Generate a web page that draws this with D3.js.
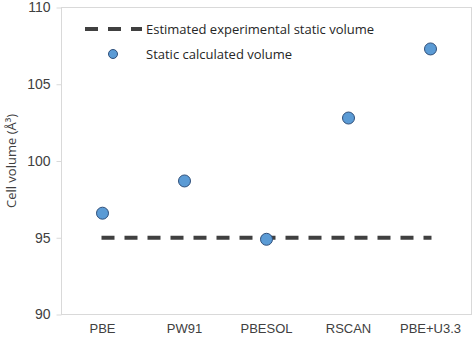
<!DOCTYPE html>
<html>
<head>
<meta charset="utf-8">
<style>
  body { margin: 0; background: #fff; }
  svg { display: block; font-family: "Open Sans", "Noto Sans", sans-serif; }
  .frame { fill: none; stroke: #d9d9d9; stroke-width: 1; }
  .axis text { fill: #404040; }
  .axis path, .axis line { stroke: #d9d9d9; }
</style>
</head>
<body>
<svg width="474" height="342"></svg>
<script src="https://d3js.org/d3.v7.min.js"></script>
<script>
var methods = ["PBE", "PW91", "PBESOL", "RSCAN", "PBE+U3.3"];
var calculated = [96.6, 98.7, 94.9, 102.8, 107.3];
var experimental = 95;
var yTicks = [90, 95, 100, 105, 110];

var svg = d3.select("svg"),
    margin = {top: 7.5, right: 2.5, bottom: 27.5, left: 61.5},
    width = +svg.attr("width") - margin.left - margin.right,
    height = +svg.attr("height") - margin.top - margin.bottom,
    g = svg.append("g").attr("transform", "translate(" + margin.left + "," + margin.top + ")");

var x = d3.scaleBand().domain(methods).range([0, width]).padding(0);
var y = d3.scaleLinear().domain([90, 110]).range([height, 0]);

g.append("rect").attr("class", "frame")
  .attr("width", width).attr("height", height);

// y axis
var yAxis = g.append("g").attr("class", "axis")
  .call(d3.axisLeft(y).tickValues(yTicks).tickSize(5).tickPadding(6));
yAxis.select(".domain").remove();
yAxis.selectAll("text").attr("font-size", 14);

// x axis labels
var xAxis = g.append("g").attr("class", "axis")
  .attr("transform", "translate(0," + height + ")")
  .call(d3.axisBottom(x).tickSize(0).tickPadding(9));
xAxis.select(".domain").remove();
xAxis.selectAll("text").attr("font-size", 13);

svg.append("text")
  .attr("transform", "translate(11," + (margin.top + height / 2) + ") rotate(-90)")
  .attr("text-anchor", "middle")
  .attr("dy", "0.35em")
  .attr("font-size", 13)
  .attr("fill", "#404040")
  .text("Cell volume (Å³)");

// experimental dashed line
var line = d3.line().x(function(d) { return d[0]; }).y(function(d) { return d[1]; });
g.append("path")
  .attr("d", line([[x(methods[0]) + x.bandwidth() / 2 - 1, y(experimental)],
                   [x(methods[methods.length - 1]) + x.bandwidth() / 2 + 1, y(experimental)]]))
  .attr("fill", "none")
  .attr("stroke", "#404040")
  .attr("stroke-width", 4)
  .attr("stroke-dasharray", "13,10");

// calculated points
g.selectAll("circle.pt")
  .data(methods)
  .enter().append("circle")
  .attr("class", "pt")
  .attr("cx", function(d) { return x(d) + x.bandwidth() / 2; })
  .attr("cy", function(d, i) { return y(calculated[i]); })
  .attr("r", 6)
  .attr("fill", "#5b9bd5")
  .attr("stroke", "#2f4f7a")
  .attr("stroke-width", 1);

// legend
var legend = svg.append("g").attr("font-size", 13).attr("fill", "#262626");
legend.append("line")
  .attr("x1", 85).attr("x2", 142).attr("y1", 29).attr("y2", 29)
  .attr("stroke", "#404040").attr("stroke-width", 4)
  .attr("stroke-dasharray", "13,10");
legend.append("text").attr("x", 146).attr("y", 29).attr("dy", "0.35em")
  .text("Estimated experimental static volume");
legend.append("circle")
  .attr("cx", 113).attr("cy", 54).attr("r", 4.5)
  .attr("fill", "#5b9bd5").attr("stroke", "#2f4f7a").attr("stroke-width", 1);
legend.append("text").attr("x", 146).attr("y", 54).attr("dy", "0.35em")
  .text("Static calculated volume");
</script>
</body>
</html>
